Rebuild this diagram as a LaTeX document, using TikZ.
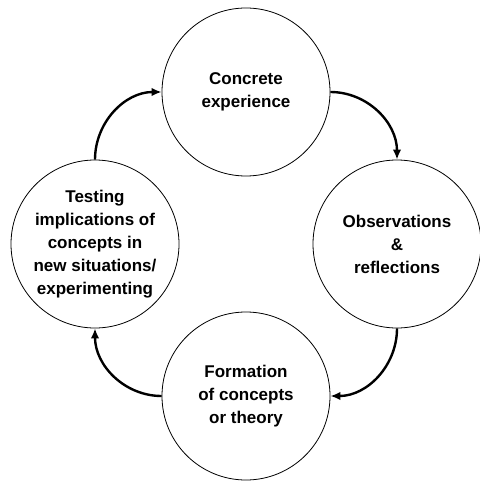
\documentclass[tikz,border=0pt]{standalone}
\usepackage{fontspec}
\setmainfont{Liberation Sans}
\usetikzlibrary{arrows.meta}

\tikzset{
  stage/.style={circle, draw, line width=0.8pt, minimum size=168pt, inner sep=0pt,
    align=center, font=\fontsize{17}{23}\selectfont\bfseries},
  cyclearrow/.style={line width=2.4pt, -{Latex[length=10pt,width=8.5pt]}}
}

\begin{document}
\begin{tikzpicture}[x=1pt,y=-1pt]

\useasboundingbox (0,0) rectangle (479,481);

% the four stages of the cycle
\node[stage] (concrete) at (246,92) {Concrete\\experience};
\node[stage] (observe) at (397,244) {Observations\\\&\\reflections};
\node[stage] (formation) at (246,396) {Formation\\of concepts\\or theory};
\node[stage] (testing) at (95,244) {Testing\\implications of\\concepts in\\new situations/\\experimenting};

% arrows round the cycle
\draw[cyclearrow] (concrete.east) to[out=0,in=90] (observe.north);
\draw[cyclearrow] (observe.south) to[out=-90,in=0] (formation.east);
\draw[cyclearrow] (formation.west) to[out=180,in=-90] (testing.south);
\draw[cyclearrow] (testing.north) to[out=90,in=180] (concrete.west);

\end{tikzpicture}
\end{document}
